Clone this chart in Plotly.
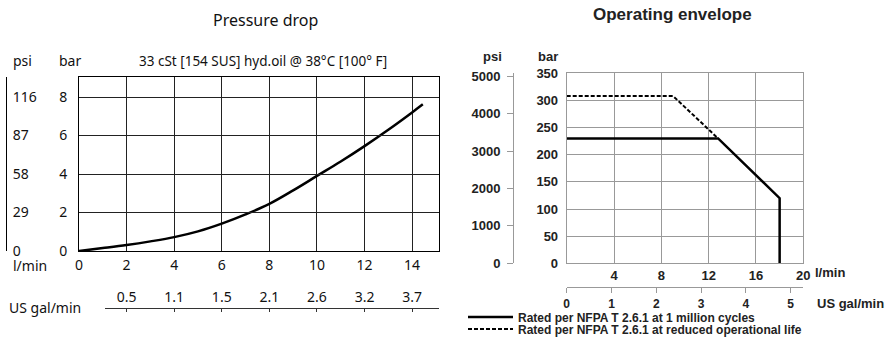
import plotly.graph_objects as go

# Pressure drop curve (l/min vs bar)
pd_flow = [0, 1, 2, 3, 4, 5, 6, 7, 8, 9, 10, 11, 12, 13, 14, 14.45]
pd_bar = [0, 0.15, 0.31, 0.5, 0.72, 1.02, 1.42, 1.9, 2.45, 3.15, 3.9, 4.65, 5.45, 6.3, 7.2, 7.62]

pd_flow_ticks = [0, 2, 4, 6, 8, 10, 12, 14]
pd_bar_ticks = [0, 2, 4, 6, 8]
pd_psi_ticks = [0, 29, 58, 87, 116]
pd_gal_pos = [2, 4, 6, 8, 10, 12, 14]
pd_gal_labels = ["0.5", "1.1", "1.5", "2.1", "2.6", "3.2", "3.7"]

# Operating envelope
env_flow_rated = [0, 12.8, 18, 18]
env_bar_rated = [230, 230, 120, 0]
env_flow_reduced = [0, 9, 12.8]
env_bar_reduced = [308, 308, 230]

env_flow_ticks = [4, 8, 12, 16, 20]
env_bar_ticks = [0, 50, 100, 150, 200, 250, 300, 350]
env_psi_ticks = [0, 1000, 2000, 3000, 4000, 5000]
env_gal_ticks = [0, 1, 2, 3, 4, 5]

PSI_PER_BAR = 14.5038
LPM_PER_GAL = 3.78541

W, H = 891, 346
LF = "Noto Sans"
RF = "Liberation Sans"


def px(x):
    return x / W


def py(y):
    return 1 - y / H


fig = go.Figure()

fig.add_trace(go.Scatter(x=pd_flow, y=pd_bar, mode="lines", line=dict(color="black", width=2.5, shape="spline"),
                         showlegend=False, xaxis="x", yaxis="y"))
# empty traces so the extra axes get drawn
fig.add_trace(go.Scatter(x=[], y=[], xaxis="x3", yaxis="y", showlegend=False))
fig.add_trace(go.Scatter(x=[], y=[], xaxis="x", yaxis="y3", showlegend=False))

fig.add_trace(go.Scatter(x=env_flow_rated, y=env_bar_rated, mode="lines",
                         line=dict(color="black", width=2.5),
                         name="Rated per NFPA T 2.6.1 at 1 million cycles",
                         xaxis="x2", yaxis="y2", legend="legend"))
fig.add_trace(go.Scatter(x=env_flow_reduced, y=env_bar_reduced, mode="lines",
                         line=dict(color="black", width=2, dash="4px,2px"),
                         name="Rated per NFPA T 2.6.1 at reduced operational life",
                         xaxis="x2", yaxis="y2", legend="legend2"))
fig.add_trace(go.Scatter(x=[], y=[], xaxis="x4", yaxis="y2", showlegend=False))
fig.add_trace(go.Scatter(x=[], y=[], xaxis="x2", yaxis="y4", showlegend=False))

lfont = dict(family=LF, size=14, color="#111")
rfont = dict(family=RF, size=13, color="#222", weight="bold")
galfont = dict(family=RF, size=12, color="#222", weight="bold")
legfont = dict(family=RF, size=12, color="#222", weight="bold")

pd_xmax = 15.13
pd_ymax = 9.04
fig.update_layout(
    width=W, height=H,
    margin=dict(l=0, r=0, t=0, b=0, autoexpand=False),
    paper_bgcolor="white", plot_bgcolor="rgba(0,0,0,0)",
    xaxis=dict(domain=[px(79), px(439)], range=[0, pd_xmax], anchor="y",
               tickvals=pd_flow_ticks, showgrid=True, gridcolor="#222", gridwidth=1,
               showline=True, linecolor="black", linewidth=1, mirror=True, zeroline=False,
               ticks="", tickfont=lfont, ticklabelstandoff=1),
    yaxis=dict(domain=[py(251), py(77)], range=[0, pd_ymax], anchor="x",
               tickvals=pd_bar_ticks, showgrid=True, gridcolor="#222", gridwidth=1,
               showline=True, linecolor="black", linewidth=1, mirror=True, zeroline=False,
               ticks="", tickfont=lfont, ticklabelstandoff=8),
    yaxis3=dict(overlaying="y", anchor="free", position=px(6), side="right",
                range=[0, pd_ymax * 14.5], tickvals=pd_psi_ticks, showgrid=False,
                showline=True, linecolor="black", linewidth=1, zeroline=False,
                ticks="", tickfont=lfont, ticklabelstandoff=3),
    xaxis3=dict(domain=[px(105), px(439)], range=[26 / (360 / pd_xmax), pd_xmax],
                anchor="free", position=py(308), side="top",
                tickvals=pd_gal_pos, ticktext=pd_gal_labels, showgrid=False,
                showline=True, linecolor="#333", linewidth=1, zeroline=False,
                ticks="inside", ticklen=3, tickcolor="#333", tickfont=lfont),

    xaxis2=dict(domain=[px(566.7), px(803.3)], range=[0, 20], anchor="y2",
                tickvals=env_flow_ticks, showgrid=True, gridcolor="#999", gridwidth=1,
                showline=True, linecolor="#999", linewidth=1, mirror=True, zeroline=False,
                ticks="", tickfont=rfont, ticklabelstandoff=0),
    yaxis2=dict(domain=[py(263.3), py(73.3)], range=[0, 350], anchor="x2",
                tickvals=env_bar_ticks, showgrid=True, gridcolor="#999", gridwidth=1,
                showline=True, linecolor="#999", linewidth=1, mirror=True, zeroline=False,
                ticks="", tickfont=rfont, ticklabelstandoff=5),
    yaxis4=dict(overlaying="y2", anchor="free", position=px(513), side="left",
                range=[0, 350 * PSI_PER_BAR], tickvals=env_psi_ticks, showgrid=False,
                showline=True, linecolor="#999", linewidth=1, zeroline=False,
                ticks="outside", ticklen=6, tickcolor="#999", tickfont=rfont,
                ticklabelstandoff=4),
    xaxis4=dict(overlaying="x2", anchor="free", position=py(287.3), side="bottom",
                range=[0, 20 / LPM_PER_GAL], tickvals=env_gal_ticks, showgrid=False,
                showline=True, linecolor="#999", linewidth=1, zeroline=False,
                ticks="outside", ticklen=5, tickcolor="#999", tickfont=galfont),

    legend=dict(x=px(463), y=py(317), xanchor="left", yanchor="middle",
                bgcolor="rgba(0,0,0,0)", font=legfont, itemwidth=45),
    legend2=dict(x=px(463), y=py(329), xanchor="left", yanchor="middle",
                 bgcolor="rgba(0,0,0,0)", font=legfont, itemwidth=45),
)

ann = [
    ("Pressure drop", 265, 20, "center", dict(family=LF, size=16, color="#111")),
    ("33 cSt [154 SUS] hyd.oil @ 38°C [100° F]", 263, 61, "center", dict(family=LF, size=13.5, color="#111")),
    ("psi", 22, 61, "center", lfont),
    ("bar", 70, 61, "center", lfont),
    ("l/min", 30, 265, "center", lfont),
    ("US gal/min", 45, 307, "center", lfont),
    ("Operating envelope", 672, 15, "center", dict(family=RF, size=17, color="#222", weight="bold")),
    ("psi", 492, 56, "center", rfont),
    ("bar", 548, 56, "center", rfont),
    ("l/min", 813, 272, "left", rfont),
    ("US gal/min", 850, 303, "center", rfont),
]
for text, x, y, anchor, font in ann:
    fig.add_annotation(text=text, x=px(x), y=py(y), xref="paper", yref="paper",
                       xanchor=anchor, yanchor="middle", showarrow=False, font=font)

# drop the default page margin so the figure sits at the window's top-left corner
fig.write_html("out.html", config={"displayModeBar": False},
               post_script="document.body.style.margin='0';")
